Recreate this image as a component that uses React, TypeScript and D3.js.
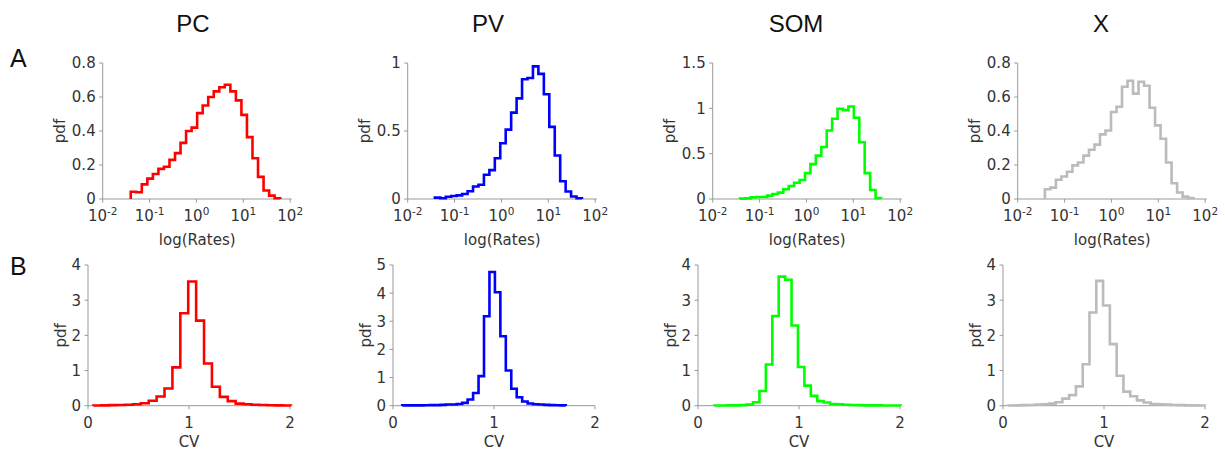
import React from "react";
import * as d3 from "d3";

// ---------- DATA ----------
const groups = ["PC", "PV", "SOM", "X"];
const colors = ["#ff0000", "#0000ff", "#00ff00", "#bbbbbb"];

// Row A: pdf of log-binned firing rates; bin range given in log10(rate)
const rateRangePC = [-1.402, 1.786];
const ratePdfPC = [0.043, 0.04, 0.086, 0.12, 0.147, 0.177, 0.19, 0.23, 0.27, 0.33, 0.4, 0.42, 0.505, 0.55, 0.6, 0.633, 0.657, 0.672, 0.633, 0.58, 0.495, 0.364, 0.24, 0.13, 0.05, 0.02, 0.004];
const rateRangePV = [-1.42, 1.718];
const ratePdfPV = [0.01, 0.005, 0.017, 0.022, 0.027, 0.037, 0.057, 0.092, 0.105, 0.178, 0.212, 0.3, 0.41, 0.51, 0.635, 0.74, 0.88, 0.89, 0.975, 0.92, 0.77, 0.53, 0.32, 0.13, 0.055, 0.018, 0.005];
const rateRangeSOM = [-1.42, 1.59];
const ratePdfSOM = [0.004, 0.007, 0.018, 0.022, 0.022, 0.037, 0.055, 0.07, 0.107, 0.144, 0.18, 0.21, 0.285, 0.385, 0.478, 0.574, 0.755, 0.885, 0.996, 0.98, 1.02, 0.896, 0.626, 0.285, 0.1, 0.01];
const rateRangeX = [-1.42, 1.753];
const ratePdfX = [0.057, 0.067, 0.113, 0.132, 0.16, 0.198, 0.215, 0.255, 0.29, 0.32, 0.38, 0.403, 0.512, 0.543, 0.66, 0.696, 0.62, 0.69, 0.666, 0.537, 0.433, 0.354, 0.215, 0.093, 0.038, 0.014, 0.006];

// Row B: pdf of CV; bin range in CV units
const cvRangePC = [0.053, 2.01];
const cvPdfPC = [0.005, 0.01, 0.015, 0.02, 0.025, 0.04, 0.07, 0.14, 0.26, 0.49, 1.09, 2.63, 3.53, 2.42, 1.2, 0.54, 0.25, 0.13, 0.06, 0.04, 0.025, 0.02, 0.012, 0.008, 0.005];
const cvRangePV = [0.091, 1.711];
const cvPdfPV = [0.01, 0.01, 0.01, 0.01, 0.015, 0.02, 0.02, 0.03, 0.04, 0.04, 0.06, 0.1, 0.22, 0.45, 1.05, 3.18, 4.75, 4.03, 2.47, 1.25, 0.6, 0.3, 0.15, 0.08, 0.05, 0.04, 0.03, 0.02, 0.015, 0.01];
const cvRangeSOM = [0.163, 2.008];
const cvPdfSOM = [0.005, 0.005, 0.01, 0.01, 0.015, 0.03, 0.1, 0.42, 1.17, 2.55, 3.67, 3.58, 2.28, 1.1, 0.57, 0.28, 0.13, 0.09, 0.05, 0.04, 0.025, 0.02, 0.015, 0.01, 0.01, 0.008, 0.006, 0.005, 0.005];
const cvRangeX = [0.05, 1.999];
const cvPdfX = [0.005, 0.01, 0.015, 0.02, 0.03, 0.04, 0.06, 0.1, 0.2, 0.3, 0.55, 1.18, 2.65, 3.55, 2.85, 1.75, 0.85, 0.4, 0.27, 0.15, 0.09, 0.05, 0.04, 0.03, 0.02, 0.015, 0.01, 0.008, 0.005];

const rateRanges = [rateRangePC, rateRangePV, rateRangeSOM, rateRangeX];
const ratePdfs = [ratePdfPC, ratePdfPV, ratePdfSOM, ratePdfX];
const cvRanges = [cvRangePC, cvRangePV, cvRangeSOM, cvRangeX];
const cvPdfs = [cvPdfPC, cvPdfPV, cvPdfSOM, cvPdfX];

// y-axis tick labels per panel
const rateYMax = [0.8, 1, 1.5, 0.8];
const rateYTicks = [
  ["0", "0.2", "0.4", "0.6", "0.8"],
  ["0", "0.5", "1"],
  ["0", "0.5", "1", "1.5"],
  ["0", "0.2", "0.4", "0.6", "0.8"],
];
const cvYMax = [4, 5, 4, 4];
const cvYTicks = [
  ["0", "1", "2", "3", "4"],
  ["0", "1", "2", "3", "4", "5"],
  ["0", "1", "2", "3", "4"],
  ["0", "1", "2", "3", "4"],
];
const rateXExps = ["-2", "-1", "0", "1", "2"];
const cvXTicks = ["0", "1", "2"];

// ---------- LAYOUT ----------
const W = 1225;
const H = 450;
const COL = 305;
const TITLE_X = [193, 488, 796, 1101];
const TICK_FONT = "'DejaVu Sans', sans-serif";
const TITLE_FONT = "'Liberation Sans', Arial, sans-serif";
const AXIS_COLOR = "#999999";
const TEXT_COLOR = "#333333";

function stepPath(
  lo: number,
  hi: number,
  vals: number[],
  xMap: (v: number) => number,
  y: d3.ScaleLinear<number, number>
) {
  const n = vals.length;
  const edges = d3.range(n + 1).map((i) => lo + ((hi - lo) * i) / n);
  const pts: [number, number][] = [[xMap(edges[0]), y(0)]];
  vals.forEach((v, i) => {
    pts.push([xMap(edges[i]), y(v)]);
    pts.push([xMap(edges[i + 1]), y(v)]);
  });
  pts.push([xMap(edges[n]), y(0)]);
  return d3.line()(pts) || "";
}

function RatePanel({ i }: { i: number }) {
  const left = 102.7 + COL * i;
  const right = 291.7 + COL * i;
  const top = 63;
  const bottom = 199;
  const x = d3.scaleLog().domain([1e-2, 1e2]).range([left, right - 1.5]);
  const y = d3.scaleLinear().domain([0, rateYMax[i]]).range([bottom, top]);
  const path = stepPath(rateRanges[i][0], rateRanges[i][1], ratePdfs[i], (v) => x(Math.pow(10, v)), y);
  const cx = (left + right) / 2;
  return (
    <g>
      <line x1={left} x2={left} y1={top} y2={bottom} stroke={AXIS_COLOR} strokeWidth={1} />
      <line x1={left} x2={right} y1={bottom} y2={bottom} stroke={AXIS_COLOR} strokeWidth={1} />
      {rateYTicks[i].map((t) => (
        <g key={t}>
          <line x1={left - 3.5} x2={left} y1={y(+t)} y2={y(+t)} stroke={AXIS_COLOR} />
          <text x={left - 7} y={y(+t)} dy="0.36em" textAnchor="end" fontSize={15} fill={TEXT_COLOR} fontFamily={TICK_FONT}>
            {t}
          </text>
        </g>
      ))}
      {rateXExps.map((e) => {
        const xv = x(Math.pow(10, +e));
        return (
          <g key={e}>
            <line x1={xv} x2={xv} y1={bottom} y2={bottom + 3.5} stroke={AXIS_COLOR} />
            <text x={xv} y={bottom + 22} textAnchor="middle" fontSize={15} fill={TEXT_COLOR} fontFamily={TICK_FONT}>
              10
              <tspan dy={-6} fontSize={10.5}>{e}</tspan>
            </text>
          </g>
        );
      })}
      <path d={path} fill="none" stroke={colors[i]} strokeWidth={2.6} strokeLinejoin="miter" />
      <text x={cx} y={245} textAnchor="middle" fontSize={15} fill={TEXT_COLOR} fontFamily={TICK_FONT}>
        log(Rates)
      </text>
      <text transform={`translate(${left - 43.4},${(top + bottom) / 2}) rotate(-90)`} dy="0.36em" textAnchor="middle" fontSize={15} fill={TEXT_COLOR} fontFamily={TICK_FONT}>
        pdf
      </text>
    </g>
  );
}

function CvPanel({ i }: { i: number }) {
  const left = 88 + COL * i;
  const right = 290 + COL * i;
  const top = 265;
  const bottom = 405.7;
  const x = d3.scaleLinear().domain([0, 2]).range([left, right]);
  const y = d3.scaleLinear().domain([0, cvYMax[i]]).range([bottom, top]);
  const path = stepPath(cvRanges[i][0], cvRanges[i][1], cvPdfs[i], (v) => x(v), y);
  const cx = (left + right) / 2;
  return (
    <g>
      <line x1={left} x2={left} y1={top} y2={bottom} stroke={AXIS_COLOR} strokeWidth={1} />
      <line x1={left} x2={right} y1={bottom} y2={bottom} stroke={AXIS_COLOR} strokeWidth={1} />
      {cvYTicks[i].map((t) => (
        <g key={t}>
          <line x1={left - 3.5} x2={left} y1={y(+t)} y2={y(+t)} stroke={AXIS_COLOR} />
          <text x={left - 7} y={y(+t)} dy="0.36em" textAnchor="end" fontSize={15} fill={TEXT_COLOR} fontFamily={TICK_FONT}>
            {t}
          </text>
        </g>
      ))}
      {cvXTicks.map((t) => (
        <g key={t}>
          <line x1={x(+t)} x2={x(+t)} y1={bottom} y2={bottom + 3.5} stroke={AXIS_COLOR} />
          <text x={x(+t)} y={bottom + 22.5} textAnchor="middle" fontSize={15} fill={TEXT_COLOR} fontFamily={TICK_FONT}>
            {t}
          </text>
        </g>
      ))}
      <path d={path} fill="none" stroke={colors[i]} strokeWidth={2.6} strokeLinejoin="miter" />
      <text x={cx} y={447} textAnchor="middle" fontSize={15} fill={TEXT_COLOR} fontFamily={TICK_FONT}>
        CV
      </text>
      <text transform={`translate(${left - 27.6},${(top + bottom) / 2}) rotate(-90)`} dy="0.36em" textAnchor="middle" fontSize={15} fill={TEXT_COLOR} fontFamily={TICK_FONT}>
        pdf
      </text>
    </g>
  );
}

export default function App() {
  return (
    <svg width={W} height={H} style={{ position: "absolute", left: 0, top: 0, background: "#ffffff" }}>
      <rect x={0} y={0} width={W} height={H} fill="#ffffff" />
      {groups.map((g, i) => (
        <text key={g} x={TITLE_X[i]} y={32} textAnchor="middle" fontSize={24} fill="#111111" fontFamily={TITLE_FONT}>
          {g}
        </text>
      ))}
      <text x={10} y={67} fontSize={25} fill="#111111" fontFamily={TITLE_FONT}>A</text>
      <text x={10} y={275} fontSize={25} fill="#111111" fontFamily={TITLE_FONT}>B</text>
      {groups.map((g, i) => (
        <RatePanel key={"a" + g} i={i} />
      ))}
      {groups.map((g, i) => (
        <CvPanel key={"b" + g} i={i} />
      ))}
    </svg>
  );
}
